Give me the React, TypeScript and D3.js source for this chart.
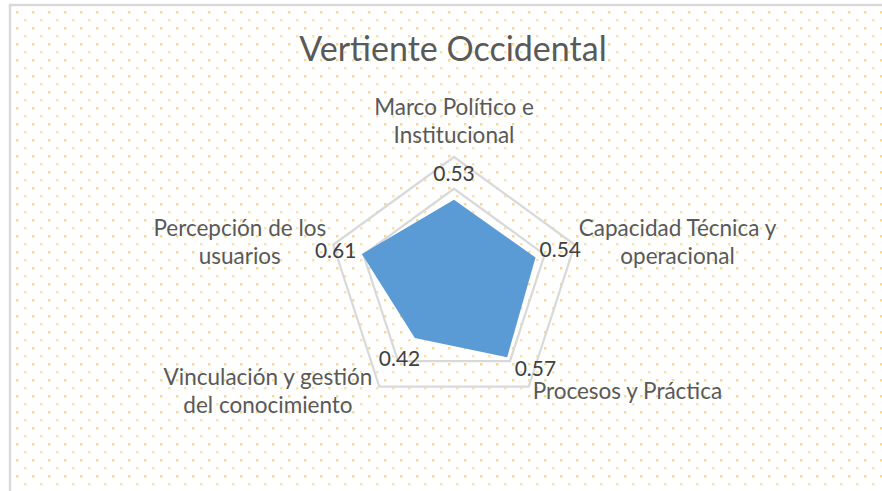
import React, { useEffect, useRef } from 'react';
import * as d3 from 'd3';

// chart data
const chartTitle = 'Vertiente Occidental';
const categoryLines: string[][] = [
  ['Marco Político e', 'Institucional'],
  ['Capacidad Técnica y', 'operacional'],
  ['Procesos y Práctica'],
  ['Vinculación y gestión', 'del conocimiento'],
  ['Percepción de los', 'usuarios'],
];
const seriesValues = [0.53, 0.54, 0.57, 0.42, 0.61];
const gridTicks = [0.2, 0.4, 0.6, 0.8];

const WIDTH = 882;
const HEIGHT = 491;
const FONT = 'Lato, "Open Sans", sans-serif';

type Box = { x: number; y: number; width: number; height: number };
const hits = (a: Box, b: Box, pad: number) =>
  a.x < b.x + b.width + pad && b.x < a.x + a.width + pad &&
  a.y < b.y + b.height + pad && b.y < a.y + a.height + pad;

const App: React.FC = () => {
  const svgRef = useRef<SVGSVGElement>(null);

  useEffect(() => {
    if (!svgRef.current) return;
    const svg = d3.select(svgRef.current);
    svg.selectAll('*').remove();

    // dotted background pattern
    const defs = svg.append('defs');
    const pat = defs.append('pattern')
      .attr('id', 'dots')
      .attr('patternUnits', 'userSpaceOnUse')
      .attr('x', 16)
      .attr('y', 11)
      .attr('width', 16)
      .attr('height', 16);
    pat.append('rect').attr('x', 0).attr('y', 0).attr('width', 2.5).attr('height', 2.5)
      .attr('fill', '#f2d173').attr('opacity', 0.8);
    pat.append('rect').attr('x', 8).attr('y', 8).attr('width', 2.5).attr('height', 2.5)
      .attr('fill', '#f2d173').attr('opacity', 0.6);

    svg.append('rect').attr('width', WIDTH).attr('height', HEIGHT).attr('fill', '#fff');
    svg.append('rect')
      .attr('x', 10).attr('y', 5)
      .attr('width', WIDTH).attr('height', HEIGHT)
      .attr('fill', 'url(#dots)')
      .attr('stroke', '#d9d9d9')
      .attr('stroke-width', 2.5);

    // title
    svg.append('text')
      .attr('x', 453)
      .attr('y', 61)
      .attr('text-anchor', 'middle')
      .attr('font-family', FONT)
      .attr('font-size', '34px')
      .attr('fill', '#595959')
      .text(chartTitle);

    const cx = 454;
    const cy = 284;
    const R = 127;
    const n = categoryLines.length;
    const r = d3.scaleLinear().domain([0, d3.max(gridTicks) as number]).range([0, R]);
    const angle = d3.scalePoint<number>().domain(d3.range(n + 1)).range([0, 2 * Math.PI]);
    const ang = (i: number) => angle(i) as number;

    const g = svg.append('g').attr('transform', `translate(${cx},${cy})`);
    const radial = d3.lineRadial<number>()
      .angle((_, i) => ang(i))
      .curve(d3.curveLinearClosed);

    // grid rings
    g.selectAll('.ring')
      .data(gridTicks)
      .enter()
      .append('path')
      .attr('class', 'ring')
      .attr('d', t => radial.radius(() => r(t))(d3.range(n)) as string)
      .attr('fill', 'none')
      .attr('stroke', '#d9d9d9')
      .attr('stroke-width', 2.25);

    // filled series
    g.append('path')
      .attr('d', radial.radius(d => r(d))(seriesValues) as string)
      .attr('fill', '#5b9bd5');

    // category labels
    const lineH = 28;
    const catBoxes: Box[] = [];
    categoryLines.forEach((lines, i) => {
      const a = ang(i);
      const ux = Math.sin(a);
      const uy = -Math.cos(a);
      const vx = R * ux;
      const vy = R * uy;
      const lab = g.append('g');
      const texts = lab.selectAll('text')
        .data(lines)
        .enter()
        .append('text')
        .attr('font-family', FONT)
        .attr('font-size', '22.5px')
        .attr('fill', '#595959')
        .attr('text-anchor', 'middle')
        .text(d => d);
      let w = 0;
      texts.each(function () {
        w = Math.max(w, (this as SVGTextElement).getComputedTextLength());
      });
      const blockH = lines.length * lineH;
      let bx: number;
      if (ux > 0.3) bx = vx + 4 + w / 2;
      else if (ux < -0.3) bx = vx - 7 - w / 2;
      else bx = vx;
      let top: number;
      if (uy < -0.9) top = vy - 8 - blockH;
      else if (uy > 0.5) top = vy + 4 - blockH / 2;
      else top = vy - 3 - blockH / 2;
      texts
        .attr('x', bx)
        .attr('y', (_, j) => top + j * lineH + lineH / 2)
        .attr('dy', '0.35em');
      texts.each(function () {
        catBoxes.push((this as SVGTextElement).getBBox());
      });
    });

    // data labels, slid along the ring when they run into a category label
    g.selectAll('.val')
      .data(seriesValues)
      .enter()
      .append('text')
      .attr('class', 'val')
      .attr('dy', '0.35em')
      .attr('text-anchor', 'middle')
      .attr('font-family', FONT)
      .attr('font-size', '21px')
      .attr('fill', '#404040')
      .text(d => d3.format('.2f')(d))
      .each(function (d, i) {
        const el = d3.select(this);
        const a = ang(i);
        const ux = Math.sin(a);
        const uy = -Math.cos(a);
        const d0 = r(d) + 26;
        const x0 = ux * d0;
        const y0 = uy * d0;
        for (let k = 0; k <= 40; k++) {
          el.attr('x', x0 + uy * k).attr('y', y0 - ux * k);
          const box = (this as SVGTextElement).getBBox();
          if (!catBoxes.some(b => hits(box, b, -4))) break;
        }
      });
  }, []);

  return (
    <svg
      ref={svgRef}
      width={WIDTH}
      height={HEIGHT}
      style={{ position: 'absolute', left: 0, top: 0, display: 'block' }}
    />
  );
};

export default App;
